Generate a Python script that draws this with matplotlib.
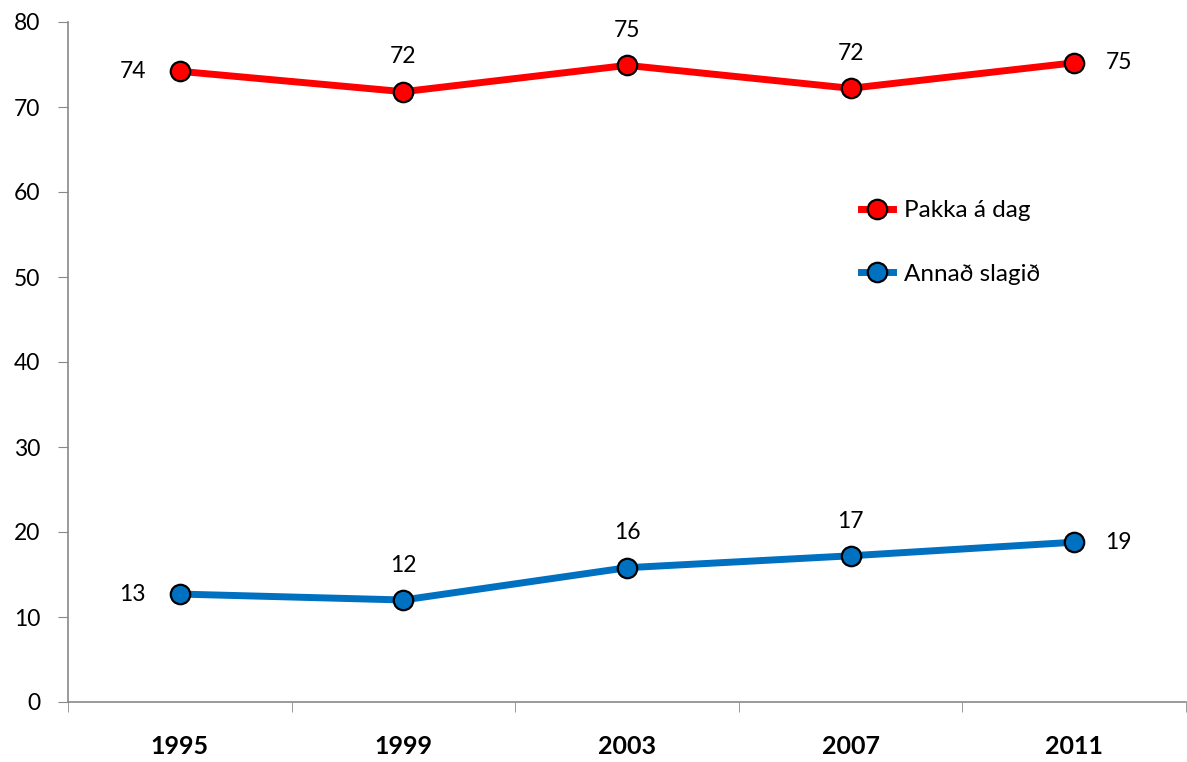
import matplotlib.pyplot as plt

years = ['1995', '1999', '2003', '2007', '2011']
pakka = [74.2, 71.8, 74.9, 72.2, 75.2]
annad = [12.7, 12.0, 15.8, 17.2, 18.8]
pakka_labels = ['74', '72', '75', '72', '75']
annad_labels = ['13', '12', '16', '17', '19']

plt.rcParams['font.family'] = ['Lato', 'DejaVu Sans']

fig = plt.figure(figsize=(11.87, 7.62), dpi=100)
ax = fig.add_axes([68 / 1187, 1 - 702 / 762, 1118 / 1187, 680 / 762])

x = range(len(years))
ax.plot(x, pakka, color='#ff0000', lw=5, marker='o', ms=14, mfc='#ff0000',
        mec='black', mew=1.6, label='Pakka á dag', zorder=3)
ax.plot(x, annad, color='#0070c0', lw=5, marker='o', ms=14, mfc='#0070c0',
        mec='black', mew=1.6, label='Annað slagið', zorder=3)

# label offsets: first point left, last point right, others above
def offs(i):
    if i == 0:
        return (-34, 0)
    if i == len(years) - 1:
        return (32, 0)
    return (0, 25)

for i in x:
    ax.annotate(pakka_labels[i], (i, pakka[i]), xytext=offs(i), textcoords='offset points',
                ha='center', va='center', fontsize=16.5)
    ax.annotate(annad_labels[i], (i, annad[i]), xytext=offs(i), textcoords='offset points',
                ha='center', va='center', fontsize=16.5)

ax.set_xlim(-0.5, 4.5)
ax.set_ylim(0, 80)
ax.set_yticks(range(0, 81, 10))
ax.set_xticks(list(x))
ax.set_xticklabels(years, fontweight='bold', fontsize=18)
ax.set_xticks([i - 0.5 for i in range(6)], minor=True)
ax.tick_params(axis='x', which='major', length=0, pad=24)
ax.tick_params(axis='x', which='minor', length=7, color='#898989', direction='out')
ax.tick_params(axis='y', length=7, color='#898989', labelsize=16.5, pad=13)

for s in ['top', 'right']:
    ax.spines[s].set_visible(False)
for s in ['left', 'bottom']:
    ax.spines[s].set_color('#898989')
    ax.spines[s].set_linewidth(1.2)

ax.legend(loc='upper left', bbox_to_anchor=(0.69, 0.77), frameon=False, fontsize=17.5,
          labelspacing=1.75, handlelength=1.3, handletextpad=0.45)

fig.savefig('out.png', dpi=100)
